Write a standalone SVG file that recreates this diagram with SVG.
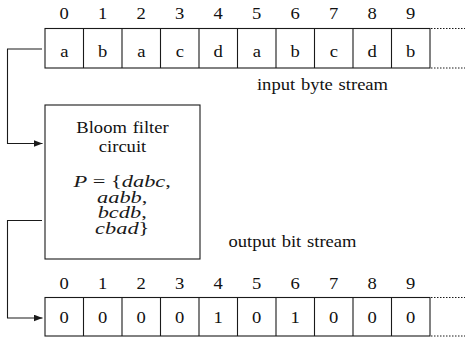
<svg xmlns="http://www.w3.org/2000/svg" width="465" height="343" viewBox="0 0 465 343">
  <style>
    text { font-family: "Liberation Serif", "Times New Roman", serif; font-size: 16px; fill: #111; text-anchor: middle; }
    .math { font-size: 16px; fill: #1a1a1a; }
    .m { font-style: italic; }
    .cell { fill: #fff; stroke: #1a1a1a; stroke-width: 1.1; }
    .div { stroke: #1a1a1a; stroke-width: 1.1; }
    .dots { stroke: #1a1a1a; stroke-width: 1; stroke-dasharray: 1.5 1.5; }
    .wire { fill: none; stroke: #1a1a1a; stroke-width: 1.1; marker-end: url(#arrow); }
    .box { fill: #fff; stroke: #1a1a1a; stroke-width: 1.1; }
  </style>
  <defs>
    <marker id="arrow" markerUnits="userSpaceOnUse" markerWidth="10" markerHeight="8" refX="9" refY="3.5" orient="auto">
      <path d="M0,0 L9,3.5 L0,7 Z" fill="#1a1a1a"/>
    </marker>
  </defs>

  <!-- input byte stream: ten cells, 38.5 px wide -->
  <g id="input-stream">
    <rect class="cell" x="45" y="28.5" width="385" height="39.5"/>
    <path class="div" d="M83.5,28.5V68 M122,28.5V68 M160.5,28.5V68 M199,28.5V68 M237.5,28.5V68 M276,28.5V68 M314.5,28.5V68 M353,28.5V68 M391.5,28.5V68"/>
    <path class="dots" d="M431,28.5H465 M431,68H465"/>
    <g>
      <text transform="translate(64.25 19) scale(1.16 1)">0</text>
      <text transform="translate(102.75 19) scale(1.16 1)">1</text>
      <text transform="translate(141.25 19) scale(1.16 1)">2</text>
      <text transform="translate(179.75 19) scale(1.16 1)">3</text>
      <text transform="translate(218.25 19) scale(1.16 1)">4</text>
      <text transform="translate(256.75 19) scale(1.16 1)">5</text>
      <text transform="translate(295.25 19) scale(1.16 1)">6</text>
      <text transform="translate(333.75 19) scale(1.16 1)">7</text>
      <text transform="translate(372.25 19) scale(1.16 1)">8</text>
      <text transform="translate(410.75 19) scale(1.16 1)">9</text>
    </g>
    <g>
      <text transform="translate(64.25 56.5) scale(1.16 1)">a</text>
      <text transform="translate(102.75 56.5) scale(1.16 1)">b</text>
      <text transform="translate(141.25 56.5) scale(1.16 1)">a</text>
      <text transform="translate(179.75 56.5) scale(1.16 1)">c</text>
      <text transform="translate(218.25 56.5) scale(1.16 1)">d</text>
      <text transform="translate(256.75 56.5) scale(1.16 1)">a</text>
      <text transform="translate(295.25 56.5) scale(1.16 1)">b</text>
      <text transform="translate(333.75 56.5) scale(1.16 1)">c</text>
      <text transform="translate(372.25 56.5) scale(1.16 1)">d</text>
      <text transform="translate(410.75 56.5) scale(1.16 1)">b</text>
    </g>
    <text transform="translate(322.5 89.5) scale(1.16 1)" word-spacing="1">input byte stream</text>
  </g>

  <!-- Bloom filter block with its pattern set -->
  <g id="bloom-filter">
    <rect class="box" x="45" y="105" width="155" height="154"/>
    <text transform="translate(122.5 133) scale(1.16 1)" word-spacing="1">Bloom filter</text>
    <text transform="translate(122.5 151.5) scale(1.16 1)">circuit</text>
    <!-- pattern set, one centred line per tspan; x is in the 1.4-wide text space -->
    <text class="math" transform="scale(1.4 1)"><tspan x="87.3" y="187.5"><tspan class="m">P</tspan> = {<tspan class="m">dabc</tspan>,</tspan><tspan x="87.3" y="203"><tspan class="m">aabb</tspan>,</tspan><tspan x="87.3" y="218.5"><tspan class="m">bcdb</tspan>,</tspan><tspan x="87.3" y="234"><tspan class="m">cbad</tspan>}</tspan></text>
  </g>

  <!-- output bit stream -->
  <g id="output-stream">
    <text transform="translate(292.5 246.5) scale(1.16 1)" word-spacing="1">output bit stream</text>
    <g>
      <text transform="translate(64.25 289) scale(1.16 1)">0</text>
      <text transform="translate(102.75 289) scale(1.16 1)">1</text>
      <text transform="translate(141.25 289) scale(1.16 1)">2</text>
      <text transform="translate(179.75 289) scale(1.16 1)">3</text>
      <text transform="translate(218.25 289) scale(1.16 1)">4</text>
      <text transform="translate(256.75 289) scale(1.16 1)">5</text>
      <text transform="translate(295.25 289) scale(1.16 1)">6</text>
      <text transform="translate(333.75 289) scale(1.16 1)">7</text>
      <text transform="translate(372.25 289) scale(1.16 1)">8</text>
      <text transform="translate(410.75 289) scale(1.16 1)">9</text>
    </g>
    <rect class="cell" x="45" y="297.5" width="385" height="38.5"/>
    <path class="div" d="M83.5,297.5V336 M122,297.5V336 M160.5,297.5V336 M199,297.5V336 M237.5,297.5V336 M276,297.5V336 M314.5,297.5V336 M353,297.5V336 M391.5,297.5V336"/>
    <path class="dots" d="M431,297.5H465 M431,336H465"/>
    <g>
      <text transform="translate(64.25 323) scale(1.16 1)">0</text>
      <text transform="translate(102.75 323) scale(1.16 1)">0</text>
      <text transform="translate(141.25 323) scale(1.16 1)">0</text>
      <text transform="translate(179.75 323) scale(1.16 1)">0</text>
      <text transform="translate(218.25 323) scale(1.16 1)">1</text>
      <text transform="translate(256.75 323) scale(1.16 1)">0</text>
      <text transform="translate(295.25 323) scale(1.16 1)">1</text>
      <text transform="translate(333.75 323) scale(1.16 1)">0</text>
      <text transform="translate(372.25 323) scale(1.16 1)">0</text>
      <text transform="translate(410.75 323) scale(1.16 1)">0</text>
    </g>
  </g>

  <!-- connectors -->
  <g id="connectors">
    <path class="wire" d="M42,49 H7.5 V143.5 H42.5"/>
    <path class="wire" d="M42,220.5 H7.5 V318 H42.5"/>
  </g>
</svg>
